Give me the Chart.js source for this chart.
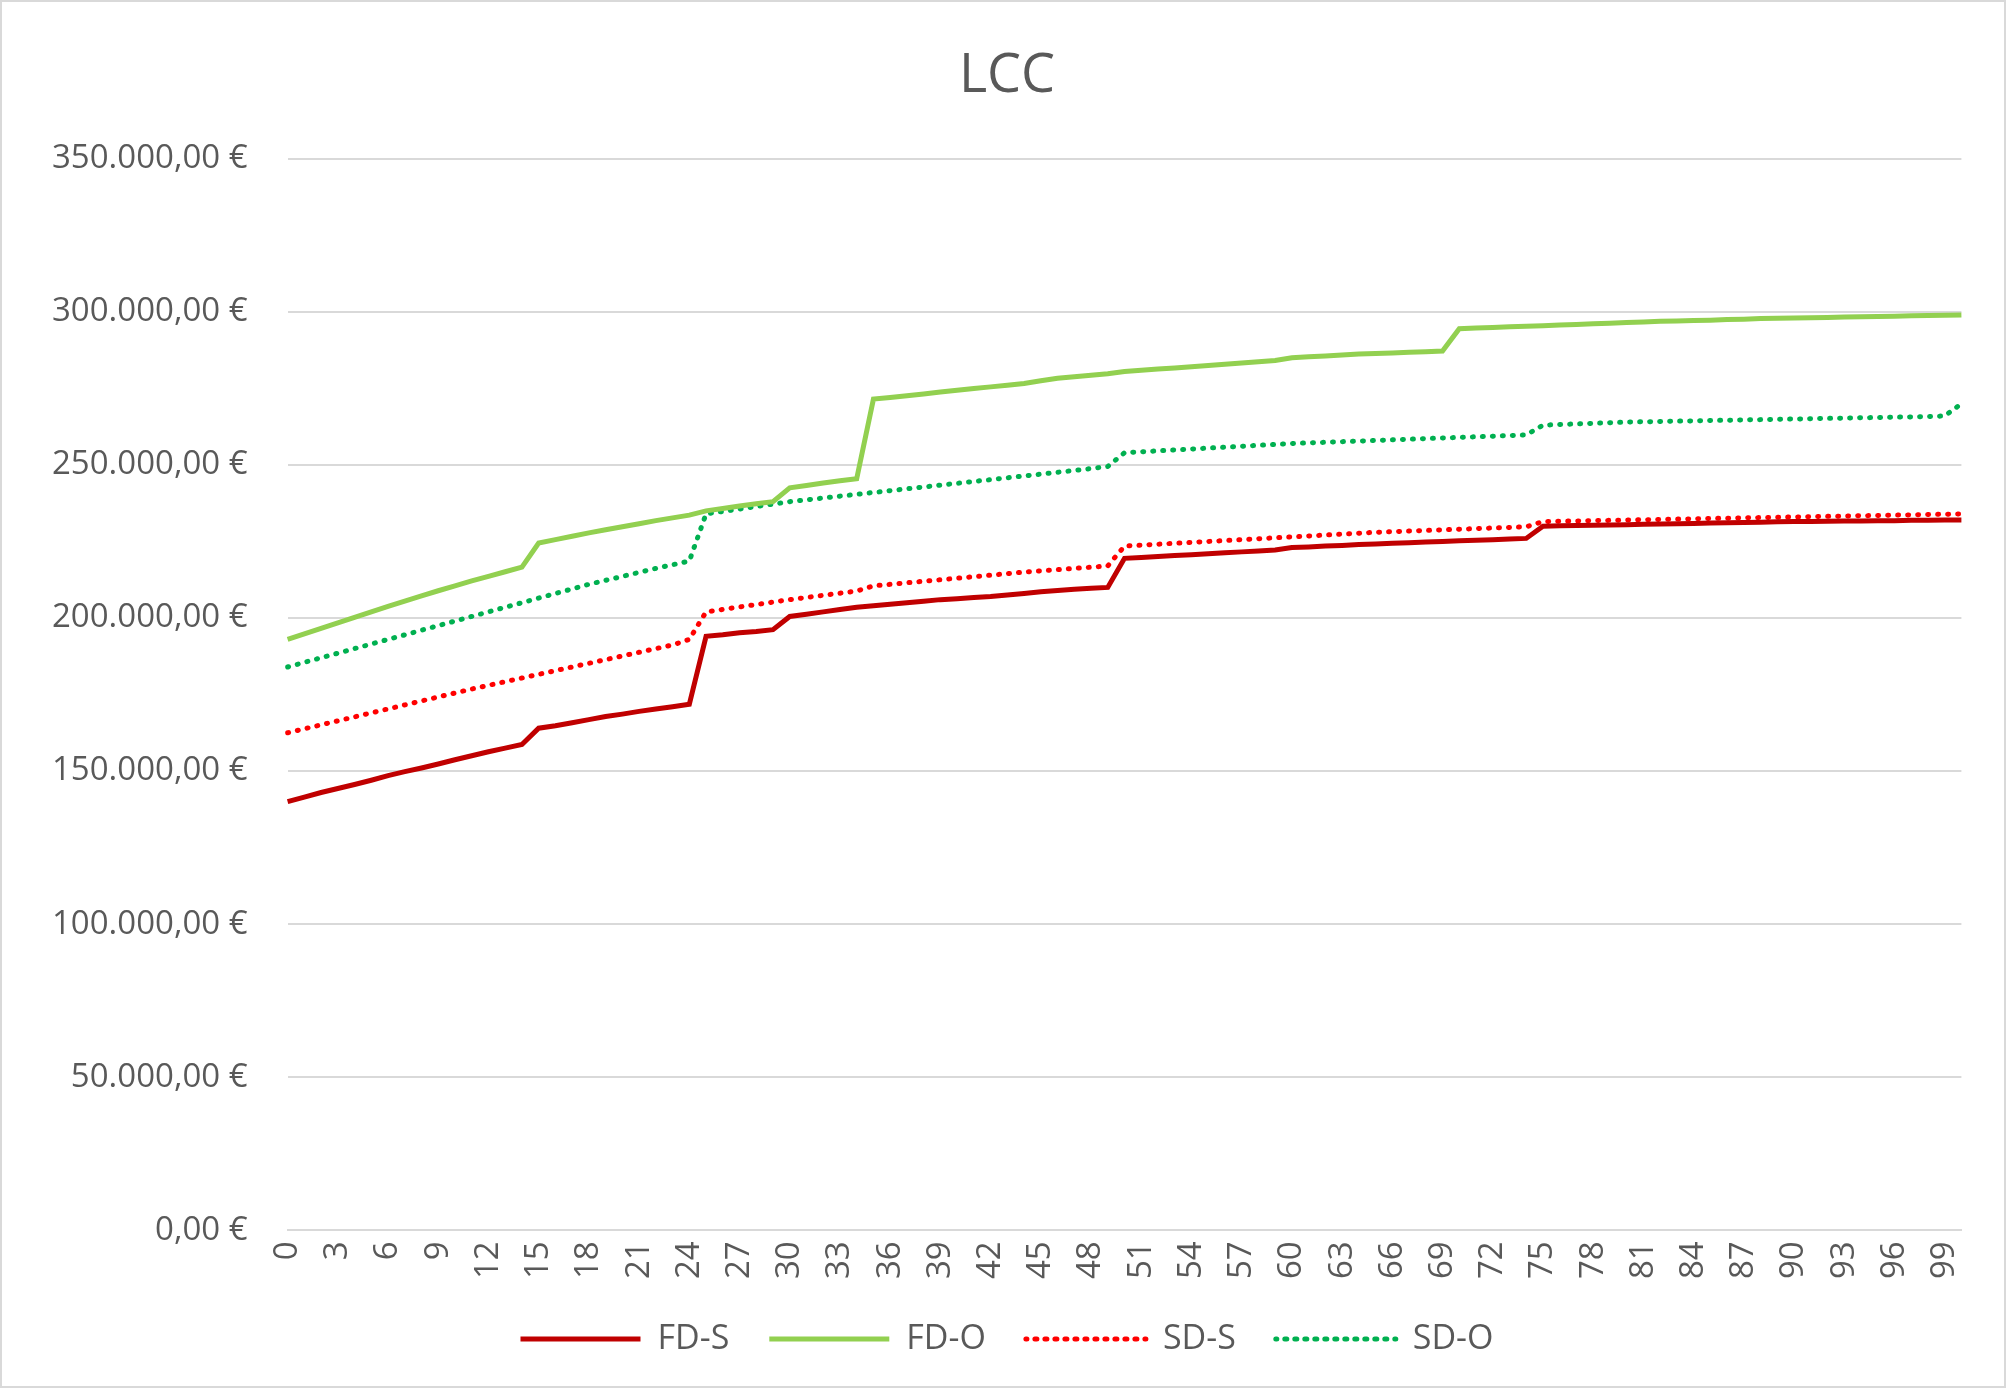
<!DOCTYPE html>
<html>
<head>
<meta charset="utf-8">
<script src="https://cdn.jsdelivr.net/npm/chart.js@4/dist/chart.umd.min.js"></script>
<style>
  html, body { margin: 0; padding: 0; background: #fff; }
  #wrap { width: 2002px; height: 1384px; border: 2px solid #d9d9d9; }
</style>
</head>
<body>
<div id="wrap"><canvas id="lcc"></canvas></div>
<script>
// years 0..100, values in thousand euro
const years = Array.from({ length: 101 }, (_, i) => i);

const fdS = [140,141.5,143,144.3,145.6,147,148.5,149.8,151,152.3,153.7,155,156.3,157.5,158.7,
  164,164.8,165.8,166.8,167.8,168.6,169.5,170.3,171,171.8,
  194,194.5,195.2,195.6,196.2,
  200.5,201.2,202,202.8,203.5,
  204,204.5,205,205.5,206,206.3,206.7,207,207.5,208,208.6,209,209.4,209.7,210,
  219.5,219.8,220.1,220.4,220.7,221,221.3,221.6,221.9,222.2,
  223,223.2,223.5,223.7,224,224.2,224.4,224.6,224.8,225,225.2,225.4,225.6,225.8,226,
  230,230.1,230.2,230.3,230.4,230.5,230.6,230.7,230.8,230.9,231,231.1,231.2,231.3,231.4,231.5,231.5,231.6,231.7,231.7,231.8,231.8,231.9,231.9,232,232];

const fdO = [193,194.8,196.6,198.4,200.2,202,203.8,205.5,207.2,208.9,210.5,212.1,213.6,215.1,216.6,
  224.5,225.6,226.7,227.8,228.8,229.8,230.8,231.8,232.7,233.6,
  235,235.8,236.6,237.3,238,
  242.5,243.3,244.1,244.8,245.5,
  271.5,272,272.6,273.2,273.8,274.4,275,275.5,276,276.6,277.5,278.3,278.8,279.3,279.8,
  280.5,280.9,281.3,281.7,282.1,282.5,282.9,283.3,283.7,284.1,
  285,285.3,285.6,285.9,286.2,286.4,286.6,286.8,287,287.2,
  294.5,294.7,294.9,295.1,295.3,295.5,295.7,295.9,296.1,296.3,296.5,296.7,296.9,297,297.2,297.3,297.5,297.6,297.8,297.9,298,298.1,298.2,298.3,298.4,298.5,298.6,298.7,298.8,298.9,299];

const sdS = [162.5,163.8,165.1,166.4,167.7,169,170.3,171.6,172.9,174.2,175.5,176.8,178,179.2,180.4,181.6,182.8,184,185.2,186.4,187.6,188.8,190,191.2,193,
  202,202.8,203.6,204.4,205.2,206,206.7,207.4,208.1,208.8,
  210.5,211,211.5,212,212.5,213,213.5,214,214.5,215,215.4,215.8,216.2,216.6,217,
  223.5,223.8,224.1,224.4,224.7,225,225.3,225.6,225.9,226.2,226.5,226.8,227.1,227.4,227.7,228,228.2,228.4,228.6,228.8,229,229.2,229.4,229.6,229.8,
  231.5,231.6,231.7,231.8,231.9,232,232.1,232.2,232.3,232.4,232.5,232.6,232.7,232.8,232.9,233,233.1,233.2,233.3,233.4,233.5,233.6,233.7,233.8,233.9,234];

const sdO = [184,185.5,187,188.5,190,191.5,193,194.5,196,197.5,199,200.5,202,203.5,205,206.5,208,209.5,211,212.3,213.6,214.9,216.2,217.4,218.6,
  234,234.8,235.6,236.4,237.2,238,238.6,239.2,239.8,240.4,241,241.6,242.2,242.8,243.4,244,244.6,245.2,245.8,246.4,247,247.6,248.2,248.8,249.5,
  254,254.3,254.6,254.9,255.2,255.5,255.8,256.1,256.4,256.7,257,257.2,257.4,257.6,257.8,258,258.2,258.4,258.6,258.8,259,259.2,259.4,259.6,259.8,
  263,263.2,263.4,263.6,263.8,264,264.1,264.2,264.3,264.4,264.5,264.6,264.7,264.8,264.9,265,265.1,265.2,265.3,265.4,265.5,265.6,265.7,265.8,266,270];

const textColor = '#595959';
const font = '"Open Sans", Calibri, sans-serif';

function euro(v) {
  return v.toLocaleString('de-DE', { minimumFractionDigits: 2, maximumFractionDigits: 2 }) + ' €';
}

function line(label, data, color, dotted) {
  return {
    label: label,
    data: data,
    borderColor: color,
    backgroundColor: color,
    borderWidth: 5,
    borderDash: dotted ? [1, 9] : [],
    borderCapStyle: dotted ? 'round' : 'butt',
    pointRadius: 0,
    tension: 0
  };
}

new Chart(document.getElementById('lcc'), {
  type: 'line',
  data: {
    labels: years,
    datasets: [
      line('FD-S', fdS, '#c00000', false),
      line('FD-O', fdO, '#92d050', false),
      line('SD-S', sdS, '#ff0000', true),
      line('SD-O', sdO, '#00b050', true)
    ]
  },
  options: {
    responsive: true,
    maintainAspectRatio: false,
    animation: false,
    layout: { padding: { left: 10, right: 2, top: 20, bottom: 20 } },
    plugins: {
      title: {
        display: true,
        text: 'LCC',
        color: textColor,
        font: { family: font, size: 54, weight: 'normal' },
        padding: { top: 22, bottom: 50 }
      },
      legend: {
        position: 'bottom',
        labels: {
          boxWidth: 120,
          boxHeight: 0,
          color: textColor,
          font: { family: font, size: 34 },
          padding: 40,
          generateLabels: chart => chart.data.datasets.map((ds, i) => ({
            text: ds.label,
            datasetIndex: i,
            fillStyle: 'rgba(0,0,0,0)',
            strokeStyle: ds.borderColor,
            lineWidth: 5,
            lineDash: ds.borderDash,
            lineCap: ds.borderCapStyle,
            fontColor: textColor,
            hidden: false
          }))
        }
      },
      tooltip: { enabled: false }
    },
    scales: {
      x: {
        offset: false,
        grid: { display: false },
        border: { color: '#d9d9d9', width: 2 },
        ticks: {
          autoSkip: false,
          maxRotation: 90,
          minRotation: 90,
          color: textColor,
          font: { family: font, size: 33 },
          callback: (v, i) => (i % 3 === 0 ? String(years[i]) : '')
        }
      },
      y: {
        min: 0,
        max: 350,
        grid: { color: '#d9d9d9', lineWidth: 2, drawTicks: false },
        border: { display: false },
        ticks: {
          stepSize: 50,
          padding: 40,
          color: textColor,
          font: { family: font, size: 33 },
          callback: v => euro(v * 1000)
        }
      }
    }
  }
});
</script>
</body>
</html>
